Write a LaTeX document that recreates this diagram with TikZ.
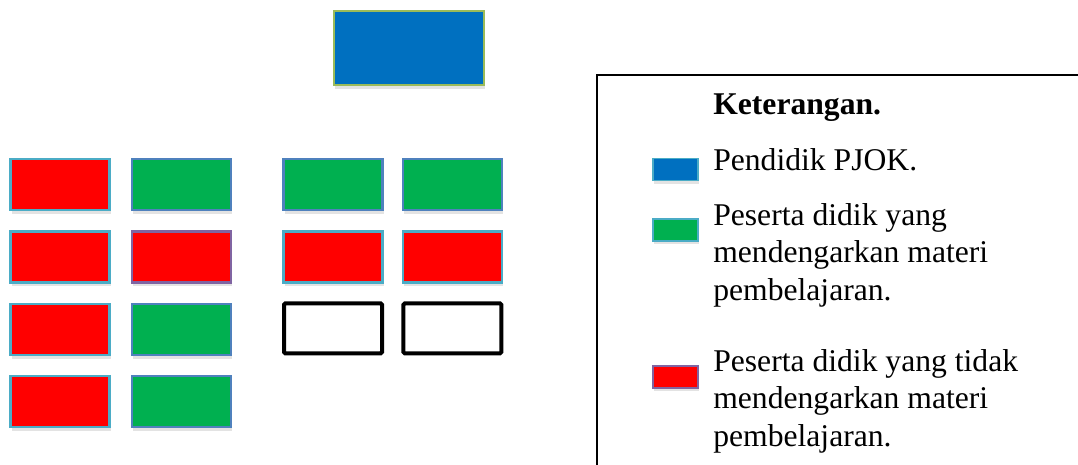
\documentclass[tikz,border=0pt]{standalone}
\usepackage{fontspec}
\setmainfont{Liberation Serif}
\usepackage{tikz}
\usetikzlibrary{positioning,shadows}
\definecolor{SeatRed}{HTML}{FF0000}
\definecolor{SeatGreen}{HTML}{00B050}
\definecolor{TeacherBlue}{HTML}{0070C0}
\definecolor{LineOlive}{HTML}{9BBB59}
\definecolor{LineAqua}{HTML}{4BACC6}
\definecolor{LineBlue}{HTML}{4F81BD}
\definecolor{LinePurple}{HTML}{8064A2}

\begin{document}
\begin{tikzpicture}[
	x=0.25mm, y=-0.25mm,
	node distance=4.75mm and 5.05mm,
	seat/.style={
		line width=0.6mm,
		minimum width=24.75mm,
		minimum height=12.75mm,
		inner sep=0pt,
		drop shadow={opacity=0.22, shadow xshift=0.3mm, shadow yshift=-1mm}
	},
	redseat/.style={seat, fill=SeatRed, draw=LineAqua},
	greenseat/.style={seat, fill=SeatGreen, draw=LineBlue},
	emptyseat/.style={
		draw=black,
		line width=1mm,
		rounded corners=1pt,
		minimum width=24.5mm,
		minimum height=12.5mm,
		inner sep=0pt
	},
	swatch/.style={
		line width=0.4mm,
		minimum width=11.25mm,
		minimum height=5.5mm,
		inner sep=0pt,
		drop shadow={opacity=0.22, shadow xshift=0.2mm, shadow yshift=-0.8mm}
	},
	legendtext/.style={
		anchor=base west,
		inner sep=0pt,
		align=left,
		font=\fontsize{22.5}{26.5}\selectfont
	}
]
\useasboundingbox (0,0) rectangle (1078,465);

% teacher
\node[seat, fill=TeacherBlue, draw=LineOlive,
	minimum width=37.5mm, minimum height=18.5mm] (teacher) at (409,48) {};

% students, first block
\node[redseat] (a1) at (60,184.5) {};
\node[redseat, below=of a1] (a2) {};
\node[redseat, below=of a2] (a3) {};
\node[redseat, below=of a3] (a4) {};

\node[greenseat, right=of a1] (b1) {};
\node[redseat, draw=LinePurple, right=of a2] (b2) {};
\node[greenseat, right=of a3] (b3) {};
\node[greenseat, right=of a4] (b4) {};

% students, second block
\node[greenseat, right=12.5mm of b1] (c1) {};
\node[redseat, right=12.5mm of b2] (c2) {};
\node[emptyseat, below=4.45mm of c2] (c3) {};

\node[greenseat, right=4.5mm of c1] (d1) {};
\node[redseat, right=4.5mm of c2] (d2) {};
\node[emptyseat, below=4.45mm of d2] (d3) {};

% legend
\draw[line width=0.5mm] (597,470) |- (1085,75);

\node[legendtext, font=\fontsize{22.5}{26.5}\selectfont\bfseries] (keyhead) at (713,115)
	{Keterangan.};

\node[swatch, fill=TeacherBlue, draw=LineAqua] (keyblue) at (675.5,169.5) {};
\node[legendtext] (keyblueText) at (713,170) {Pendidik PJOK.};

% multi-line texts: base is the last line
\node[swatch, fill=SeatGreen, draw=LineAqua] (keygreen) at (675.5,230) {};
\node[legendtext] (keygreenText) at (713,300)
	{Peserta didik yang\\mendengarkan materi\\pembelajaran.};

\node[swatch, fill=SeatRed, draw=LinePurple] (keyred) at (675.5,377) {};
\node[legendtext] (keyredText) at (713,446)
	{Peserta didik yang tidak\\mendengarkan materi\\pembelajaran.};

\end{tikzpicture}
\end{document}
